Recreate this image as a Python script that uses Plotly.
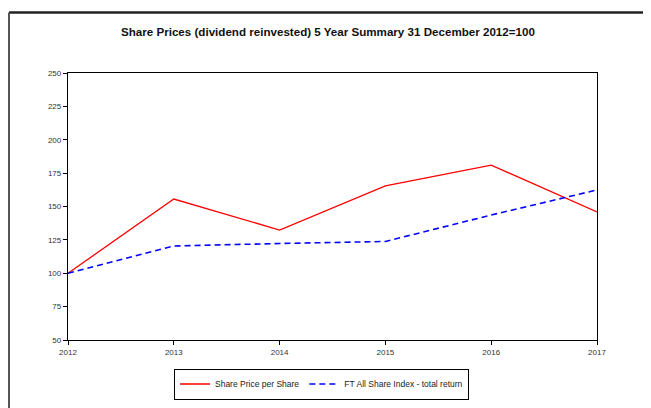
import plotly.graph_objects as go

years = [2012, 2013, 2014, 2015, 2016, 2017]
share_price = [100, 155.6, 132.4, 165.4, 181.0, 145.9]
ft_all_share = [100, 120.4, 122.3, 123.8, 143.6, 162.4]
y_ticks = [50, 75, 100, 125, 150, 175, 200, 225, 250]

# page has an 8px body margin, so the figure is 8px smaller than the window
OFF = 8
W, H = 651 - OFF, 408 - OFF
L, R, T, B = 68 - OFF, 54, 73 - OFF, 68
pw, ph = W - L - R, H - T - B

def px(x):  # page pixel -> paper
    return (x - OFF - L) / pw

def py(y):
    return (H - B - (y - OFF)) / ph

fig = go.Figure()
fig.add_trace(go.Scatter(x=years, y=share_price, mode="lines", name="Share Price per Share",
                         line=dict(color="#FF0000", width=1.3)))
fig.add_trace(go.Scatter(x=years, y=ft_all_share, mode="lines", name="FT All Share Index - total return",
                         line=dict(color="#0000FF", width=1.6, dash="6px,4px")))

fig.update_layout(
    width=W, height=H,
    margin=dict(l=L, r=R, t=T, b=B, autoexpand=False),
    paper_bgcolor="white", plot_bgcolor="white",
    font=dict(family="Liberation Sans, Arial, sans-serif", color="#333333"),
    showlegend=True,
    legend=dict(orientation="h", x=px(321.5), y=py(384), xanchor="center", yanchor="middle",
                bordercolor="black", borderwidth=1, font=dict(size=8.5, color="#222222"),
                itemwidth=30, tracegroupgap=0),
    annotations=[dict(text="<b>Share Prices (dividend reinvested) 5 Year Summary 31 December 2012=100</b>",
                      x=px(328), y=py(31), xref="paper", yref="paper", showarrow=False,
                      font=dict(size=11.6, color="#111111"), xanchor="center", yanchor="middle")],
    shapes=[
        dict(type="line", xref="paper", yref="paper", x0=px(9), x1=px(651), y0=py(12.5), y1=py(12.5),
             line=dict(color="#222222", width=2.5)),
        dict(type="line", xref="paper", yref="paper", x0=px(9), x1=px(9), y0=py(12.5), y1=py(408),
             line=dict(color="#555555", width=2)),
    ],
)
fig.update_xaxes(range=[2012, 2017], tickvals=years, ticktext=[str(y) for y in years],
                 showgrid=False, zeroline=False, showline=True, linecolor="black", linewidth=1.3,
                 mirror=True, ticks="outside", ticklen=4, tickcolor="black",
                 tickfont=dict(size=8, color="#333333"))
fig.update_yaxes(range=[50, 250], tickvals=y_ticks,
                 showgrid=False, zeroline=False, showline=True, linecolor="black", linewidth=1.3,
                 mirror=True, ticks="outside", ticklen=4, tickcolor="black",
                 tickfont=dict(size=8, color="#333333"))

fig.write_html("out.html")
